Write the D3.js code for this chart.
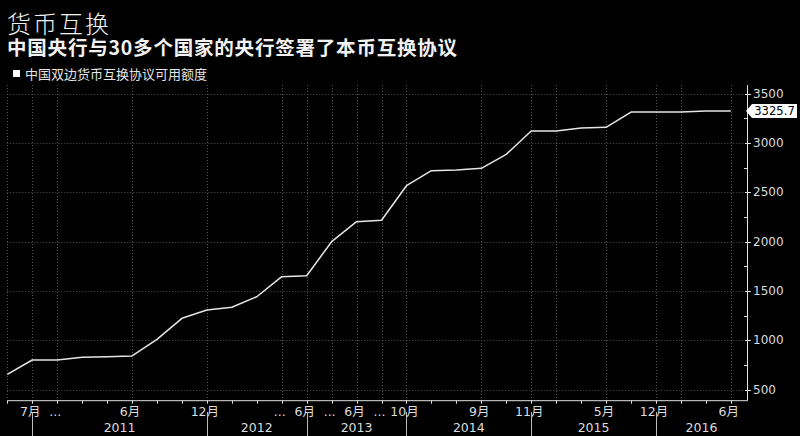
<!DOCTYPE html>
<html>
<head>
<meta charset="utf-8">
<script src="https://cdn.jsdelivr.net/npm/d3@7"></script>
<style>
  html, body { margin: 0; padding: 0; background: #000; }
  svg { display: block; font-family: "DejaVu Sans", "Noto Sans CJK SC", sans-serif; }
  .title { font-family: "Noto Sans CJK SC", sans-serif; }
</style>
</head>
<body>
<svg id="chart" width="800" height="436"></svg>
<script>
// swap lines, one point per agreement date (categorical x)
const values = [654, 799, 799, 826, 833, 840, 1009, 1222, 1306, 1334, 1441, 1644, 1654, 1999, 2202,
  2216, 2567, 2719, 2726, 2743, 2885, 3121, 3121, 3152, 3159, 3314, 3314, 3314, 3324, 3325.7];
const tickIdx = [1, 2, 5, 8, 11, 12, 13, 14, 15, 16, 19, 21, 24, 26, 29];
const tickText = ["7月", "...", "6月", "12月", "...", "6月", "...", "6月", "...", "10月", "9月", "11月", "5月", "12月", "6月"];
const gridIdx = [0, 1, 2, 5, 8, 11, 12, 13, 14, 15, 16, 19, 21, 22, 24, 26, 27, 29];
const yearNames = ["2011", "2012", "2013", "2014", "2015", "2016"];
const yearStart = [1, 8, 12, 16, 21, 26];
const yTicks = [500, 1000, 1500, 2000, 2500, 3000, 3500];

const svg = d3.select("#chart");
const lastIdx = 29.65;
const x = d3.scaleLinear().domain([0, lastIdx]).range([7.3, 747]);
const y = d3.scaleLinear().domain([500, 3500]).range([389.5, 93.7]);
const plotTop = 85, plotBottom = 400.7, plotRight = 747;

// titles
svg.append("text").attr("class", "title").attr("x", 7).attr("y", 32.5)
  .style("font-size", "24px").style("font-weight", 300).style("letter-spacing", "2px")
  .style("fill", "#f2f2f2").text("货币互换");
svg.append("text").attr("class", "title").attr("x", 7).attr("y", 54.5)
  .style("font-size", "19.5px").style("font-weight", "bold").style("letter-spacing", "0.8px")
  .style("fill", "#f2f2f2")
  .text("中国央行与30多个国家的央行签署了本币互换协议");
svg.append("rect").attr("x", 13).attr("y", 70).attr("width", 7).attr("height", 7).style("fill", "#fff");
svg.append("text").attr("class", "title").attr("x", 25).attr("y", 78.5)
  .style("font-size", "13px").style("fill", "#e6e6e6").text("中国双边货币互换协议可用额度");

// grid
const grid = svg.append("g").style("stroke", "#555").style("stroke-dasharray", "1,2").style("stroke-width", 1);
grid.selectAll(".hg").data(yTicks).join("line")
  .attr("x1", x(0)).attr("x2", plotRight)
  .attr("y1", d => Math.round(y(d)) + 0.5).attr("y2", d => Math.round(y(d)) + 0.5);
grid.selectAll(".vg").data(gridIdx).join("line")
  .attr("x1", d => Math.round(x(d)) + 0.5).attr("x2", d => Math.round(x(d)) + 0.5)
  .attr("y1", plotTop).attr("y2", plotBottom);

// axis lines
const axisColor = "#e0e0e0";
svg.append("line").attr("x1", x(0)).attr("x2", plotRight + 0.5).attr("y1", plotBottom).attr("y2", plotBottom)
  .style("stroke", axisColor).style("stroke-width", 1);
svg.append("line").attr("x1", plotRight + 0.5).attr("x2", plotRight + 0.5).attr("y1", plotTop).attr("y2", plotBottom)
  .style("stroke", axisColor).style("stroke-width", 1);

// x ticks at every point
svg.selectAll(".xt").data(d3.range(values.length)).join("line")
  .attr("x1", d => Math.round(x(d)) + 0.5).attr("x2", d => Math.round(x(d)) + 0.5)
  .attr("y1", plotBottom).attr("y2", plotBottom + 3)
  .style("stroke", axisColor);

svg.selectAll(".xl").data(tickIdx).join("text")
  .attr("x", d => x(d) - 2).attr("y", 416)
  .attr("text-anchor", "middle")
  .style("font-size", "12.5px").style("fill", "#dcdcdc")
  .text((d, i) => tickText[i]);

// year bands
svg.selectAll(".ys").data(yearStart).join("line")
  .attr("x1", d => Math.round(x(d)) + 0.5).attr("x2", d => Math.round(x(d)) + 0.5)
  .attr("y1", 412).attr("y2", 436)
  .style("stroke", "#bbb");
svg.selectAll(".yl").data(yearNames).join("text")
  .attr("x", (d, i) => (x(yearStart[i]) + x(i + 1 < yearStart.length ? yearStart[i + 1] : lastIdx)) / 2)
  .attr("y", 432)
  .attr("text-anchor", "middle")
  .style("font-size", "12.5px").style("fill", "#dcdcdc")
  .text(d => d);

// y axis ticks + labels
svg.selectAll(".ytk").data(yTicks).join("line")
  .attr("x1", plotRight - 2).attr("x2", plotRight + 4)
  .attr("y1", d => Math.round(y(d)) + 0.5).attr("y2", d => Math.round(y(d)) + 0.5)
  .style("stroke", axisColor);
svg.selectAll(".ymn").data(yTicks.slice(0, -1).map(d => d + 250)).join("line")
  .attr("x1", plotRight - 3).attr("x2", plotRight)
  .attr("y1", d => Math.round(y(d)) + 0.5).attr("y2", d => Math.round(y(d)) + 0.5)
  .style("stroke", axisColor);
svg.selectAll(".yl2").data(yTicks).join("text")
  .attr("x", 753).attr("y", d => y(d))
  .attr("dominant-baseline", "central")
  .style("font-size", "12px").style("fill", "#dcdcdc")
  .text(d => d);

// line
const line = d3.line().x((d, i) => x(i)).y(d => y(d));
svg.append("path").datum(values)
  .attr("d", line)
  .style("fill", "none").style("stroke", "#e6e6e6").style("stroke-width", 1.5)
  .style("stroke-linejoin", "round");

// last value tag
const lastV = values[values.length - 1];
const ty = y(lastV);
svg.append("path")
  .attr("d", `M${plotRight - 1},${ty} L${plotRight + 5},${ty - 7} L${plotRight + 50},${ty - 7} L${plotRight + 50},${ty + 7} L${plotRight + 5},${ty + 7} Z`)
  .style("fill", "#fff");
svg.append("text").attr("x", plotRight + 27.5).attr("y", ty)
  .attr("text-anchor", "middle").attr("dominant-baseline", "central")
  .style("font-size", "11.6px").style("fill", "#000")
  .text(lastV.toFixed(1));
</script>
</body>
</html>
